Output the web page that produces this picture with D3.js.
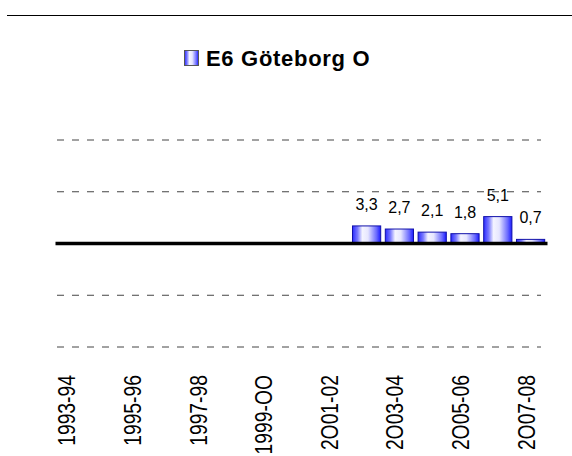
<!DOCTYPE html>
<html lang="en">

<head>
    <meta charset="UTF-8" />
    <title>E6 Göteborg O</title>
    <script src="https://d3js.org/d3.v7.min.js"></script>
    <style>
        body { margin: 0; background: #fff; }
        svg { display: block; }
    </style>
</head>

<body>
    <script>
        var seriesName = "E6 Göteborg O";
        var categories = ["1993-94", "1994-95", "1995-96", "1996-97", "1997-98", "1998-99", "1999-00",
            "2000-01", "2001-02", "2002-03", "2003-04", "2004-05", "2005-06", "2006-07", "2007-08"];
        var values = [null, null, null, null, null, null, null, null, null, 3.3, 2.7, 2.1, 1.8, 5.1, 0.7];
        var yTicks = [-20, -10, 10, 20];
        // only every other year gets a label, zeros partly typed as the letter O
        var tickLabels = ["1993-94", "1995-96", "1997-98", "1999-OO", "2O01-02", "2O03-04", "2O05-06", "2O07-08"];

        var w = 572;
        var h = 456;

        var dataset = categories.map(function (c, i) {
            return { cat: c, value: values[i] };
        });

        var svg = d3.select("body")
            .append("svg")
            .attr("width", w)
            .attr("height", h);

        // bar gradient
        var grad = svg.append("defs").append("linearGradient")
            .attr("id", "barGrad")
            .attr("x1", "0%").attr("x2", "100%")
            .attr("y1", "0%").attr("y2", "0%");
        grad.append("stop").attr("offset", "0%").attr("stop-color", "#2b2bff");
        grad.append("stop").attr("offset", "18%").attr("stop-color", "#7a7aff");
        grad.append("stop").attr("offset", "35%").attr("stop-color", "#f4f4ff");
        grad.append("stop").attr("offset", "55%").attr("stop-color", "#e6e6ff");
        grad.append("stop").attr("offset", "85%").attr("stop-color", "#6a6aff");
        grad.append("stop").attr("offset", "100%").attr("stop-color", "#1a1aff");

        // top border line
        svg.append("line")
            .attr("x1", 7).attr("x2", w)
            .attr("y1", 15.5).attr("y2", 15.5)
            .attr("stroke", "#000")
            .attr("stroke-width", 1);

        // legend
        var legend = svg.append("g").attr("transform", "translate(184,50)");
        legend.append("rect")
            .attr("x", 0.5).attr("y", 0.5)
            .attr("width", 14).attr("height", 15)
            .attr("fill", "url(#barGrad)")
            .attr("stroke", "#555");
        legend.append("text")
            .attr("x", 22).attr("y", 16)
            .attr("font-family", "Liberation Sans, Arial, sans-serif")
            .attr("font-weight", "bold")
            .attr("font-size", "22px")
            .attr("letter-spacing", "0.7px")
            .attr("fill", "#000")
            .text(seriesName);

        var xScale = d3.scaleBand()
            .domain(categories)
            .range([55, 547])
            .paddingInner(0.14)
            .paddingOuter(0.07);

        var yScale = d3.scaleLinear()
            .domain([-20, 20])
            .range([346.5, 139.5]);

        // dashed grid lines
        var yAxis = d3.axisLeft(yScale)
            .tickValues(yTicks)
            .tickSize(-(541 - 57))
            .tickFormat("");

        svg.append("g")
            .attr("class", "y axis")
            .attr("transform", "translate(57,0)")
            .call(yAxis);

        svg.select(".y.axis").select(".domain").remove();
        svg.select(".y.axis").selectAll(".tick line")
            .attr("stroke", "#444")
            .attr("stroke-width", 1)
            .attr("stroke-dasharray", "7,8");

        // bars
        var bars = dataset.filter(function (d) { return d.value != null; });

        svg.selectAll("rect.bar")
            .data(bars)
            .enter()
            .append("rect")
            .attr("class", "bar")
            .attr("x", function (d) { return xScale(d.cat); })
            .attr("y", function (d) { return yScale(d.value); })
            .attr("width", xScale.bandwidth())
            .attr("height", function (d) { return yScale(0) - yScale(d.value); })
            .attr("fill", "url(#barGrad)")
            .attr("stroke", "#1010aa")
            .attr("stroke-width", 1);

        // value labels
        svg.selectAll("text.val")
            .data(bars)
            .enter()
            .append("text")
            .attr("class", "val")
            .text(function (d) { return d3.format(".1f")(d.value).replace(".", ","); })
            .attr("x", function (d) { return xScale(d.cat) + xScale.bandwidth() / 2; })
            .attr("y", function (d) { return yScale(d.value) - 16; })
            .attr("text-anchor", "middle")
            .attr("font-family", "Liberation Sans, Arial, sans-serif")
            .attr("font-size", "16px")
            .attr("fill", "#000");

        // zero line
        var xAxis = d3.axisBottom(xScale).tickSize(0).tickFormat("");
        svg.append("g")
            .attr("class", "x axis")
            .attr("transform", "translate(0," + yScale(0) + ")")
            .call(xAxis);
        svg.select(".x.axis").select(".domain")
            .attr("stroke", "#000")
            .attr("stroke-width", 3.5);

        // rotated category labels (narrow type, squeezed along the text)
        var labelled = categories.filter(function (c, i) { return i % 2 === 0; });
        svg.selectAll("text.cat")
            .data(labelled)
            .enter()
            .append("text")
            .attr("class", "cat")
            .attr("transform", function (d) {
                return "translate(" + (xScale(d) + xScale.bandwidth() / 2 + 4) + ",375) rotate(-90) scale(0.84,1)";
            })
            .attr("text-anchor", "end")
            .attr("font-family", "Liberation Sans, Arial, sans-serif")
            .attr("font-size", "23px")
            .attr("fill", "#000")
            .text(function (d, i) { return tickLabels[i]; });
    </script>
</body>

</html>
